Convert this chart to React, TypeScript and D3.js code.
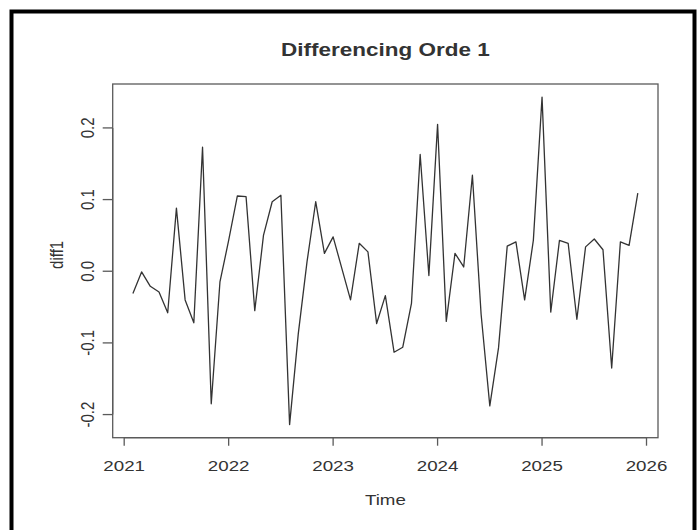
import React from "react";
import * as d3 from "d3";

// ---- data (monthly ts, starting Feb 2021) ----
const startYear = 2021;
const startMonth = 2; // February
const frequency = 12;
const diff1: number[] = [
  -0.031, -0.001, -0.021, -0.029, -0.058, 0.088, -0.04, -0.072, 0.173, -0.185, -0.015,
  0.043, 0.105, 0.104, -0.055, 0.05, 0.097, 0.106, -0.214, -0.087, 0.013, 0.097, 0.025,
  0.048, 0.004, -0.04, 0.039, 0.027, -0.073, -0.034, -0.113, -0.106, -0.045, 0.163, -0.006,
  0.205, -0.07, 0.025, 0.006, 0.134, -0.06, -0.188, -0.107, 0.035, 0.041, -0.04, 0.043,
  0.243, -0.057, 0.043, 0.039, -0.067, 0.034, 0.045, 0.03, -0.135, 0.041, 0.036, 0.109,
];
const xTicks: number[] = [2021, 2022, 2023, 2024, 2025, 2026];
const yTicks: number[] = [-0.2, -0.1, 0.0, 0.1, 0.2];
const yTickLabels: string[] = ["-0.2", "-0.1", "0.0", "0.1", "0.2"];
const title = "Differencing Orde 1";
const xLabel = "Time";
const yLabel = "diff1";

// ---- layout ----
const W = 700;
const H = 530;
const box = { left: 112.7, right: 658, top: 84, bottom: 437.7 };
const SX = 1.25; // horizontal stretch of text
const FONT = "'Liberation Sans', Arial, Helvetica, sans-serif";
const TEXT = "#333";

export default function App() {
  const times = diff1.map((_, i) => startYear + (startMonth - 1 + i) / frequency);
  const t0 = d3.min(times)!;
  const t1 = d3.max(times)!;
  const dt = (t1 - t0) * 0.04;
  const v0 = d3.min(diff1)!;
  const v1 = d3.max(diff1)!;
  const dv = (v1 - v0) * 0.04;

  const x = d3.scaleLinear().domain([t0 - dt, t1 + dt]).range([box.left, box.right]);
  const y = d3.scaleLinear().domain([v0 - dv, v1 + dv]).range([box.bottom, box.top]);

  const line = d3
    .line<number>()
    .x((_, i) => x(times[i]))
    .y((d) => y(d));

  const tickLen = 8;

  return (
    <svg
      width={W}
      height={H}
      style={{ position: "absolute", left: 0, top: 0, background: "#fff" }}
      fontFamily={FONT}
    >
      <rect x={0} y={0} width={W} height={H} fill="#fff" />
      {/* outer black frame */}
      <path d={`M11.5,${H + 5} L11.5,11.5 L694.5,11.5 L694.5,${H + 5}`} fill="none" stroke="#000" strokeWidth={4} />

      {/* title */}
      <g transform={`translate(${(box.left + box.right) / 2},50) scale(${SX},1)`}>
        <text textAnchor="middle" dy="0.35em" fontSize={18} fontWeight="bold" fill={TEXT}>
          {title}
        </text>
      </g>

      {/* plot box */}
      <rect
        x={box.left}
        y={box.top}
        width={box.right - box.left}
        height={box.bottom - box.top}
        fill="none"
        stroke="#5a5a5a"
        strokeWidth={1.3}
      />

      {/* series */}
      <path d={line(diff1) || ""} fill="none" stroke="#333" strokeWidth={1.3} strokeLinejoin="round" />

      {/* x axis */}
      <line x1={x(xTicks[0])} x2={x(xTicks[xTicks.length - 1])} y1={box.bottom} y2={box.bottom} stroke="#5a5a5a" strokeWidth={1.3} />
      {xTicks.map((t) => (
        <g key={`xt${t}`}>
          <line x1={x(t)} x2={x(t)} y1={box.bottom} y2={box.bottom + tickLen} stroke="#5a5a5a" strokeWidth={1.3} />
          <g transform={`translate(${x(t)},${466}) scale(${SX},1)`}>
            <text textAnchor="middle" dy="0.35em" fontSize={15} fill={TEXT}>
              {String(t)}
            </text>
          </g>
        </g>
      ))}
      <g transform={`translate(${(box.left + box.right) / 2},${500}) scale(${SX},1)`}>
        <text textAnchor="middle" dy="0.35em" fontSize={15} fill={TEXT}>
          {xLabel}
        </text>
      </g>

      {/* y axis */}
      <line x1={box.left} x2={box.left} y1={y(yTicks[0])} y2={y(yTicks[yTicks.length - 1])} stroke="#5a5a5a" strokeWidth={1.3} />
      {yTicks.map((v, i) => (
        <g key={`yt${i}`}>
          <line x1={box.left - tickLen * SX} x2={box.left} y1={y(v)} y2={y(v)} stroke="#5a5a5a" strokeWidth={1.3} />
          <g transform={`translate(${87},${y(v)}) scale(${SX},1) rotate(-90)`}>
            <text textAnchor="middle" dy="0.35em" fontSize={15} fill={TEXT}>
              {yTickLabels[i]}
            </text>
          </g>
        </g>
      ))}
      <g transform={`translate(${56},${(box.top + box.bottom) / 2 - 6}) scale(${SX},1) rotate(-90)`}>
        <text textAnchor="middle" dy="0.35em" fontSize={15} fill={TEXT}>
          {yLabel}
        </text>
      </g>
    </svg>
  );
}
